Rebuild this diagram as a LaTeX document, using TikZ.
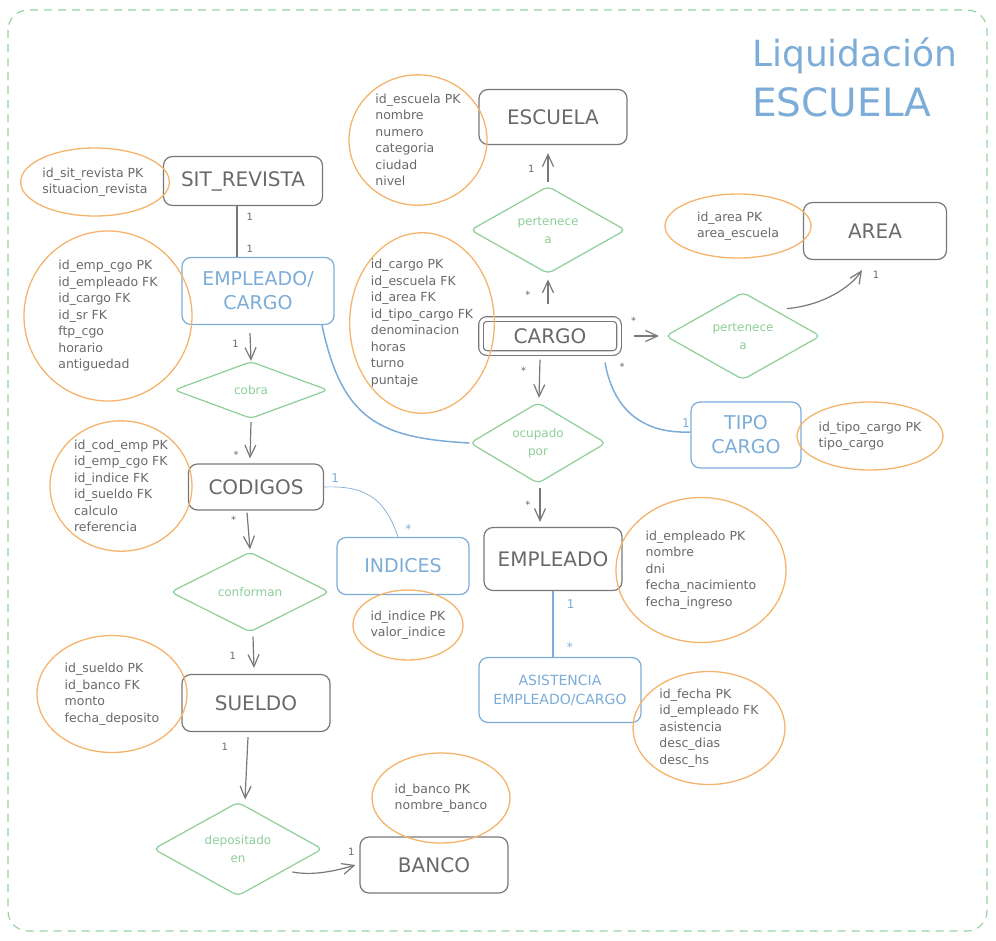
\documentclass[tikz,border=0pt]{standalone}
\usepackage{fontspec}
\setmainfont{DejaVu Sans}
\usetikzlibrary{shapes.geometric,arrows.meta,positioning}
\definecolor{lineGray}{RGB}{120,120,120}
\definecolor{txtGray}{RGB}{105,105,105}
\definecolor{erBlue}{RGB}{124,172,216}
\definecolor{erGreen}{RGB}{140,206,152}
\definecolor{erOrange}{RGB}{244,180,108}
\definecolor{frameGreen}{RGB}{150,212,162}
\begin{document}
\begin{tikzpicture}[x=1pt,y=-1pt,
    entidad/.style={draw=lineGray,line width=1.2pt,rounded corners=9pt,text=txtGray,
        font=\fontsize{20}{22}\selectfont,inner sep=0pt},
    entAzul/.style={entidad,draw=erBlue,text=erBlue,align=center,font=\fontsize{19}{24}\selectfont},
    relacion/.style={diamond,draw=erGreen,line width=1.2pt,rounded corners=5pt,text=erGreen,
        align=center,inner sep=0pt,aspect=1,font=\fontsize{12}{18}\selectfont},
    atributo/.style={ellipse,draw=erOrange,line width=1.3pt,text=txtGray,align=left,
        inner sep=0pt,font=\fontsize{12.5}{16.5}\selectfont},
    linea/.style={draw=lineGray,line width=1.2pt},
    flecha/.style={linea,-{Straight Barb[length=12pt,width=11pt]}},
    azul/.style={draw=erBlue,line width=1.5pt},
    card/.style={text=txtGray,font=\fontsize{10}{11}\selectfont,inner sep=1pt},
    cardAzul/.style={card,text=erBlue,font=\fontsize{12}{13}\selectfont}]
\useasboundingbox (0,0) rectangle (996,940);
\draw[draw=frameGreen,dash pattern=on 8pt off 6pt,line width=1.2pt,rounded corners=20pt]
    (8,10) rectangle (987,931);
\node[anchor=north west,align=left,inner sep=0pt,text=erBlue] (titulo) at (752,38)
    {{\fontsize{36}{48}\selectfont Liquidación}\\[12pt]{\fontsize{39}{48}\selectfont ESCUELA}};

\begin{scope}
\node[entidad,minimum width=159pt,minimum height=49pt] (sitrev) at (243,181) {SIT\_REVISTA};
\node[entidad,minimum width=148pt,minimum height=55pt] (escuela) at (553,117) {ESCUELA};
\node[entidad,minimum width=143pt,minimum height=57pt] (area) at (875,231) {AREA};
\node[entidad,minimum width=138pt,minimum height=34pt,double=white,double distance=3.5pt,
    rounded corners=6pt] (cargo) at (550,336) {CARGO};
\node[entidad,minimum width=135pt,minimum height=46pt] (codigos) at (256,487) {CODIGOS};
\node[entidad,minimum width=138pt,minimum height=63pt] (empleado) at (553,559) {EMPLEADO};
\node[entidad,minimum width=148pt,minimum height=57pt] (sueldo) at (256,703) {SUELDO};
\node[entidad,minimum width=148pt,minimum height=56pt] (banco) at (434,865) {BANCO};
\node[entAzul,minimum width=152pt,minimum height=67pt] (empcgo) at (258,291) {EMPLEADO/\\CARGO};
\node[entAzul,minimum width=110pt,minimum height=66pt] (tipocgo) at (746,435) {TIPO\\CARGO};
\node[entAzul,minimum width=132pt,minimum height=57pt] (indices) at (403,566) {INDICES};
\node[entAzul,minimum width=162pt,minimum height=65pt,font=\fontsize{14}{19}\selectfont]
    (asist) at (560,690) {ASISTENCIA\\EMPLEADO/CARGO};
\end{scope}

\begin{scope}
\node[relacion,minimum width=155pt,minimum height=80pt] (pertEsc) at (548,230) {pertenece\\a};
\node[relacion,minimum width=155pt,minimum height=80pt] (pertArea) at (743,336) {pertenece\\a};
\node[relacion,minimum width=154pt,minimum height=57pt] (cobra) at (251,390) {cobra};
\node[relacion,minimum width=136pt,minimum height=81pt] (ocupado) at (538,443) {ocupado\\por};
\node[relacion,minimum width=159pt,minimum height=80pt] (conforman) at (250,592) {conforman};
\node[relacion,minimum width=169pt,minimum height=83pt] (depositado) at (238,849) {depositado\\en};
\end{scope}

\begin{scope}
\node[atributo,minimum width=144pt,minimum height=68pt] (aSitrev) at (95,182)
    {id\_sit\_revista PK\\situacion\_revista};
\node[atributo,minimum width=168pt,minimum height=170pt] (aEmpcgo) at (108,316)
    {id\_emp\_cgo PK\\id\_empleado FK\\id\_cargo FK\\id\_sr FK\\ftp\_cgo\\horario\\antiguedad};
\node[atributo,minimum width=138pt,minimum height=130pt] (aEscuela) at (418,140)
    {id\_escuela PK\\nombre\\numero\\categoria\\ciudad\\nivel};
\node[atributo,minimum width=142pt,minimum height=168pt] (aCargo) at (422,323)
    {id\_cargo PK\\id\_escuela FK\\id\_area FK\\id\_tipo\_cargo FK\\denominacion\\horas\\turno\\puntaje};
\node[atributo,minimum width=146pt,minimum height=64pt] (aArea) at (738,226)
    {id\_area PK\\area\_escuela};
\node[atributo,minimum width=142pt,minimum height=130pt] (aCodigos) at (121,486)
    {id\_cod\_emp PK\\id\_emp\_cgo FK\\id\_indice FK\\id\_sueldo FK\\calculo\\referencia};
\node[atributo,minimum width=146pt,minimum height=68pt] (aTipo) at (870,436)
    {id\_tipo\_cargo PK\\tipo\_cargo};
\node[atributo,minimum width=110pt,minimum height=70pt] (aIndices) at (408,625)
    {id\_indice PK\\valor\_indice};
\node[atributo,minimum width=170pt,minimum height=145pt] (aEmpleado) at (701,570)
    {id\_empleado PK\\nombre\\dni\\fecha\_nacimiento\\fecha\_ingreso};
\node[atributo,minimum width=150pt,minimum height=117pt] (aSueldo) at (112,694)
    {id\_sueldo PK\\id\_banco FK\\monto\\fecha\_deposito};
\node[atributo,minimum width=152pt,minimum height=113pt] (aAsist) at (709,728)
    {id\_fecha PK\\id\_empleado FK\\asistencia\\desc\_dias\\desc\_hs};
\node[atributo,minimum width=138pt,minimum height=90pt] (aBanco) at (441,798)
    {id\_banco PK\\nombre\_banco};
\end{scope}

\draw[linea] ([xshift=-6pt]sitrev.south) -- ([xshift=-21pt]empcgo.north)
    node[card,pos=.22,right=8pt] {1} node[card,pos=.85,right=8pt] {1};
\draw[flecha] ([xshift=-8pt,yshift=-8pt]empcgo.south) -- (cobra.north)
    node[card,pos=.4,left=10pt] {1};
\draw[flecha] ([yshift=-3pt]cobra.south) -- ([xshift=-6pt,yshift=5pt]codigos.north)
    node[card,pos=.9,left=10pt] {*};
\draw[flecha] ([xshift=-9pt,yshift=-2pt]codigos.south) -- ([yshift=2pt]conforman.north)
    node[card,pos=.2,left=10pt] {*};
\draw[flecha] ([xshift=3pt,yshift=-4pt]conforman.south) -- ([xshift=-2pt,yshift=6pt]sueldo.north)
    node[card,pos=.6,left=16pt] {1};
\draw[flecha] ([xshift=-8pt,yshift=-5pt]sueldo.south) -- ([xshift=7pt,yshift=2pt]depositado.north)
    node[card,pos=.15,left=18pt] {1};
\draw[flecha] ([xshift=5pt,yshift=-3pt]depositado.-22) .. controls +(20,4) and +(-20,6) ..
    ([xshift=-4pt]banco.west) node[card,pos=1,above=8pt,xshift=-4pt] {1};
\draw[flecha] ([xshift=-2pt,yshift=14pt]cargo.north) -- ([yshift=-5pt]pertEsc.south)
    node[card,pos=.4,left=16pt] {*};
\draw[flecha] ([yshift=4pt]pertEsc.north) -- ([xshift=-5pt,yshift=-8pt]escuela.south)
    node[card,pos=.45,left=12pt] {1};
\draw[flecha] ([xshift=14pt]cargo.east) -- ([xshift=-6pt]pertArea.west)
    node[card,pos=0,above=10pt] {*};
\draw[flecha] ([xshift=5pt,yshift=5pt]pertArea.30) .. controls +(35,-3) and +(-12,18) ..
    ([xshift=-13pt,yshift=-10pt]area.south) node[card,pos=1,xshift=14pt,yshift=-5pt] {1};
\draw[flecha] ([xshift=-10pt,yshift=-6pt]cargo.south) -- ([xshift=1pt,yshift=4pt]ocupado.north)
    node[card,pos=.3,left=12pt] {*};
\draw[flecha] ([xshift=2pt,yshift=-4pt]ocupado.south) -- ([xshift=-13pt,yshift=5pt]empleado.north)
    node[card,pos=.5,left=8pt] {*};

\draw[azul] ([xshift=64pt]empcgo.south) .. controls +(20,95) and +(-90,-5) .. (ocupado.west);
\draw[azul] ([xshift=55pt,yshift=-9pt]cargo.south) .. controls +(8,45) and +(-50,2) ..
    ([yshift=3pt]tipocgo.west)
    node[card,pos=.03,right=12pt] {*} node[cardAzul,pos=.97,above=3pt] {1};
\draw[azul,line width=.7pt] (codigos.east) .. controls +(45,-2) and +(-12,-35) ..
    ([xshift=-5pt]indices.north)
    node[cardAzul,pos=0,above right=3pt and 6pt] {1} node[cardAzul,pos=1,above right=2pt and 6pt] {*};
\draw[azul] (empleado.south) -- (asist.north -| empleado.south)
    node[cardAzul,pos=.2,right=12pt] {1} node[cardAzul,pos=.85,right=12pt] {*};
\end{tikzpicture}
\end{document}
